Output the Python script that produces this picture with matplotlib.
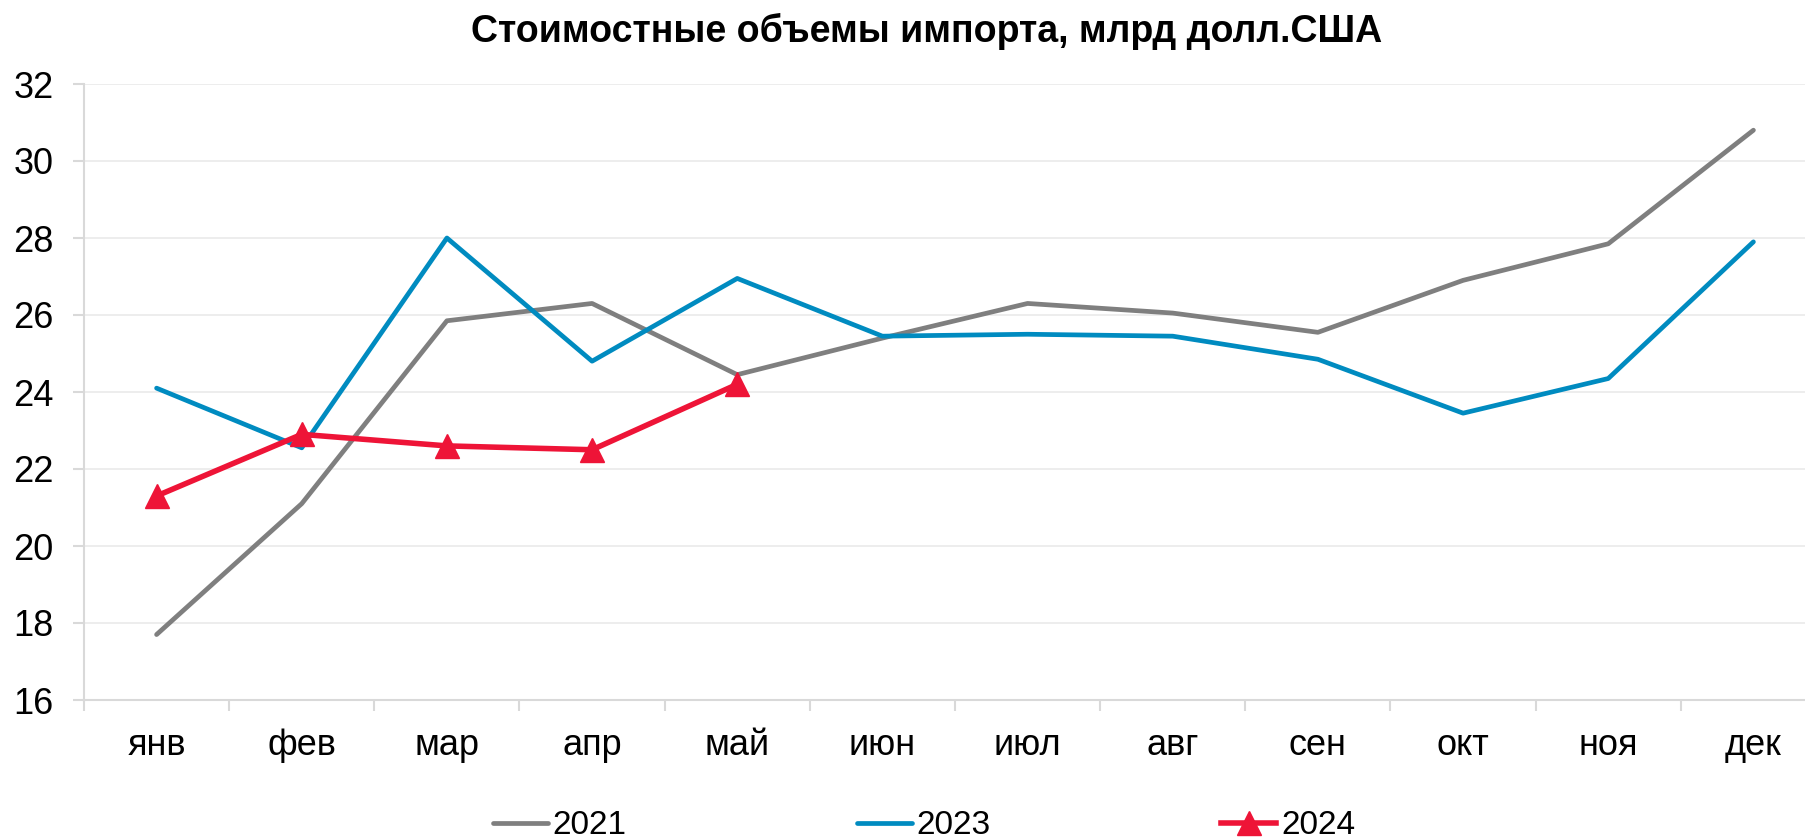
import matplotlib
matplotlib.use("Agg")
import matplotlib.pyplot as plt
from matplotlib.ticker import FixedLocator, NullFormatter

plt.rcParams['font.family'] = ['Liberation Sans', 'DejaVu Sans']

months = ["янв", "фев", "мар", "апр", "май", "июн", "июл", "авг", "сен", "окт", "ноя", "дек"]
s2021 = [17.7, 21.1, 25.85, 26.3, 24.45, 25.4, 26.3, 26.05, 25.55, 26.9, 27.85, 30.8]
s2023 = [24.1, 22.55, 28.0, 24.8, 26.95, 25.45, 25.5, 25.45, 24.85, 23.45, 24.35, 27.9]
s2024 = [21.3, 22.9, 22.6, 22.5, 24.2]
yticks = [16, 18, 20, 22, 24, 26, 28, 30, 32]
title = "Стоимостные объемы импорта, млрд долл.США"

W, H = 1806, 839
fig = plt.figure(figsize=(W / 100, H / 100), dpi=100)
left, right, top, bottom = 84, 1826, 84, 700
ax = fig.add_axes([left / W, 1 - bottom / H, (right - left) / W, (bottom - top) / H])

x = list(range(len(months)))
l1, = ax.plot(x, s2021, color="#7f7f7f", lw=3.4, solid_capstyle="round", label="2021")
l2, = ax.plot(x, s2023, color="#008bc0", lw=3.4, solid_capstyle="round", label="2023")
l3, = ax.plot(x[:len(s2024)], s2024, color="#ee1437", lw=4.0, marker="^", markersize=17,
              label="2024")

ax.set_xlim(-0.5, 11.5)
ax.set_ylim(16, 32)
ax.set_yticks(yticks)
ax.set_xticks(x)
ax.set_xticklabels(months)
ax.xaxis.set_minor_locator(FixedLocator([i + 0.5 for i in range(-1, 12)]))
ax.xaxis.set_minor_formatter(NullFormatter())

grid_c = "#d9d9d9"
ax.grid(axis="y", color="#ececec", lw=1.3)
ax.set_axisbelow(True)
for s in ["top", "right"]:
    ax.spines[s].set_visible(False)
for s in ["left", "bottom"]:
    ax.spines[s].set_color(grid_c)
    ax.spines[s].set_linewidth(1.5)

ax.tick_params(axis="x", which="major", length=0, pad=20, labelsize=26)
ax.tick_params(axis="x", which="minor", length=8, width=1.5, color=grid_c)
ax.tick_params(axis="y", length=8, width=1.5, color=grid_c, pad=14, labelsize=26)

fig.text(0.513, 1 - 31 / H, title, ha="center", va="center", fontsize=27, fontweight="bold")

fig.legend(handles=[l1, l2, l3], loc="center", bbox_to_anchor=(924 / W, 1 - 826 / H), ncol=3,
           frameon=False, fontsize=24, handlelength=1.65, handletextpad=0.15,
           columnspacing=6.9, borderaxespad=0, borderpad=0)

fig.savefig("out.png", dpi=100)
